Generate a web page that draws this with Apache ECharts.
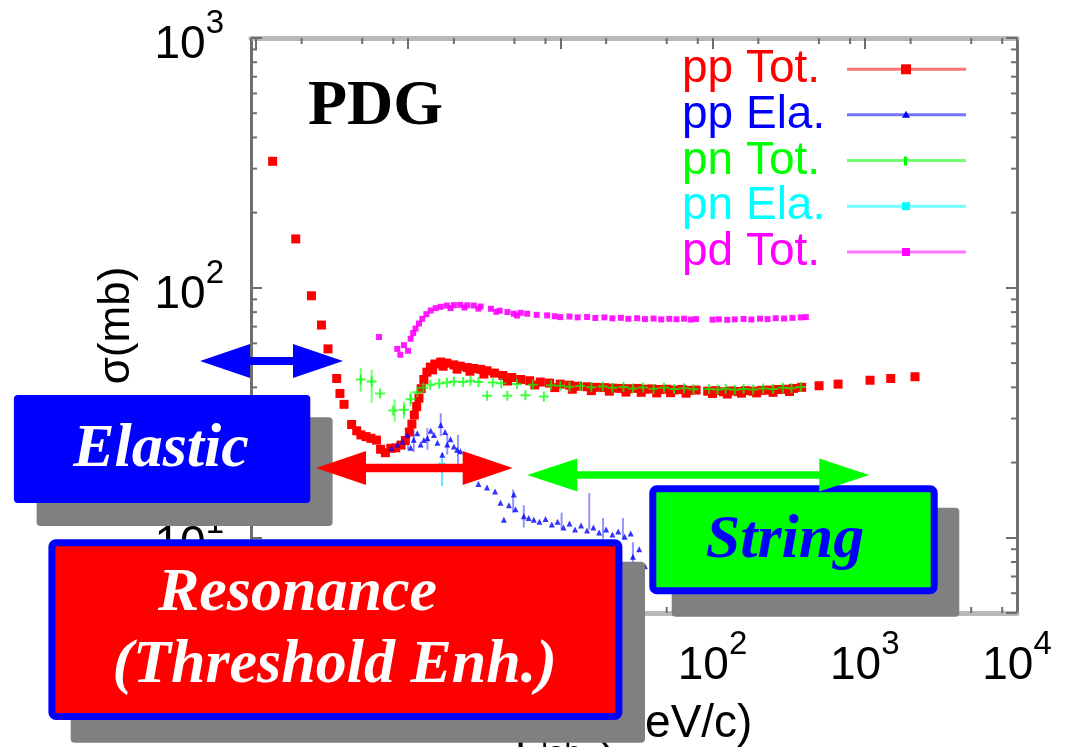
<!DOCTYPE html>
<html><head><meta charset="utf-8">
<script src="https://cdn.jsdelivr.net/npm/echarts@6/dist/echarts.min.js"></script>
<style>html,body{margin:0;padding:0;background:#fff}#c{width:1075px;height:747px}</style>
</head><body><div id="c"></div>
<script>
// ---------------- data (plab GeV/c, sigma mb) ----------------
const ppTot = [[0.129,321],[0.183,157],[0.232,93],[0.27,71],[0.298,57],[0.34,43.4],[0.357,37.8],[0.38,34.2],[0.426,28.4],[0.46,26.8],[0.49,25.8],[0.53,25.4],[0.57,25.0],[0.62,24.6],[0.66,22.6],[0.71,21.9],[0.77,22.8],[0.83,22.9],[0.9,23.5],[0.96,24.5],[1.02,26.5],[1.06,28.5],[1.1,31],[1.14,33.5],[1.18,36.2],[1.22,39.5],[1.27,43],[1.33,46],[1.4,48.2],[1.5,49.6],[1.64,50.5],[1.8,50.0],[2.0,49.2],[2.2,48.6],[2.45,48.0],[2.7,47.6],[3.0,47.2],[3.3,46.6],[3.7,45.6],[4.2,44.6],[4.8,43.8],[5.5,43.0],[6.3,42.5],[7.4,42.0],[8.5,41.6],[10,41.2],[11.5,40.8],[13,40.4],[15,40.2],[17,40.0],[19.5,39.9],[22,39.7],[25,39.6],[28,39.5],[32,39.6],[36,39.3],[40,39.4],[45,39.2],[50,39.3],[56,39.0],[63,39.2],[70,38.9],[78,39.0],[93,38.6],[105,38.8],[118,38.4],[132,38.7],[148,38.5],[165,38.8],[185,38.6],[210,38.9],[235,39.0],[265,39.2],[300,39.3],[340,39.6],[385,40.0],[501,40.6],[668,41.2],[1083,42.7],[1481,43.4],[2138,44.1],
  [1.45,47.0],[1.7,48.6],[2.1,47.3],[2.55,46.4],[3.15,45.2],[4.5,42.4],[6.8,40.9],[9.2,39.9],[12,39.3],[16,38.8],[21,38.6],[27,38.3],[34,38.2],[43,38.0],[53,38.1],[67,37.9],[100,37.8],[125,37.6],[155,37.9],[195,38.0],[250,38.2],[320,38.5]];
const ppEla = [[0.78,22.8],[0.85,23.6],[0.92,24.3],[0.99,25.8],[1.04,22.9],[1.09,24.7],[1.15,26.2],[1.21,23.6],[1.27,24.6],[1.34,25.0],[1.41,26.8],[1.48,25.8],[1.56,24.0],[1.64,28.3],[1.68,21.5],[1.75,26.5],[1.81,23.6],[1.9,24.8],[2.0,23.2],[2.1,22.5],[2.21,22.2],[2.45,19.5],[2.9,16.4],[3.3,15.9],[3.73,15.3],[4.05,13.8],[4.26,11.8],[4.6,13.5],[4.95,14.9],[5.08,13.0],[5.76,12.2],[6.2,12.0],[6.7,11.8],[7.3,11.6],[8.0,11.9],[8.8,11.3],[9.6,11.6],[10.5,11.0],[11.5,11.4],[12.5,10.8],[13.7,11.2],[15,10.7],[16.5,11.0],[18,10.5],[20,10.8],[22,10.3],[24,10.6],[26.5,10.1],[29,10.4],[30,8.4],[33,9.0],[36,7.7],[45,7.6],[60,7.3],[80,7.1],[110,7.0],[150,7.0],[200,7.1]];
const ppElaErr = [[1.0,22.5,27.5],[1.09,22.0,27.0],[1.34,22.5,27.5],[1.64,25.5,31.5],[1.81,21.5,26.0],[2.13,19.3,25.8],[2.45,17.5,21.5],[4.9,12.6,15.6],[5.76,11.0,13.5],[10.2,10.8,12.6],[15.5,10.8,15.1],[19.1,9.9,12.0],[25.8,9.9,12.0],[30,7.8,9.6]];
const pnTot = [[0.489,43.0],[0.577,42.2],[0.654,37.8],[0.8,32.3],[0.94,32.5],[1.04,35.8],[1.15,38.2],[1.26,39.8],[1.4,41.0],[1.6,41.4],[1.8,41.8],[2.0,42.2],[2.3,42.0],[2.57,42.5],[2.9,42.0],[3.31,37.0],[3.6,41.8],[4.1,41.5],[4.49,37.0],[5.2,41.2],[5.9,37.2],[6.6,41.0],[7.8,36.8],[8.7,40.8],[10,40.6],[11.5,40.2],[13.5,40.5],[16,40.0],[19,40.3],[22,39.8],[26,40.1],[30,39.6],[35,39.9],[41,39.5],[48,39.8],[56,39.4],[65,39.7],[75,39.3],[95,39.4],[108,39.2],[122,39.5],[140,39.1],[160,39.4],[185,39.2],[215,39.6],[250,39.4],[290,39.8],[330,39.7],[380,40.1]];
const pnTotErr = [[0.489,38.4,47.9],[0.577,34.7,47.0],[0.817,29.1,35.8],[0.94,30.0,35.0],[1.04,33.5,38.5]];
const pnEla = [[1.67,19.4]];
const pnElaErr = [[1.67,16.1,21.9]];
const pdTot = [[0.645,63.6],[0.85,57],[0.89,54],[0.94,59],[1.0,56],[1.04,62.6],[1.08,66],[1.12,68.7],[1.18,72],[1.24,75.2],[1.32,78.5],[1.41,81.2],[1.52,83],[1.64,84],[1.8,85],[2.0,85.3],[2.2,85.5],[2.45,85.2],[2.7,85],[3.0,84.2],[3.5,82.5],[4.0,81],[4.5,80],[4.95,78.8],[5.5,79.5],[6.06,78.8],[7.0,78],[8.2,77.6],[9.2,77],[10,76.4],[11.5,76.8],[13,76.2],[15,76.5],[17,75.8],[19.5,76.2],[22,75.5],[25,75.9],[28,75.2],[32,75.6],[36,75],[41,75.4],[46,74.8],[52,75.2],[58,74.9],[65,75.3],[72,74.7],[78,75.0],[100,74.6],[110,74.9],[125,74.5],[140,74.8],[160,75.1],[180,74.7],[205,75.3],[230,75.0],[260,75.6],[295,75.4],[335,75.9],[380,76.2],[410,76.4],
  [1.9,83.0],[2.35,83.4],[2.9,82.6],[3.8,80.2],[5.2,77.5]];

const legendLabels = ['pp Tot.','pp Ela.','pn Tot.','pn Ela.','pd Tot.'];
const xMin = 0.093, xMax = 10000, yMin = 5, yMax = 1000;
const xMinorMult = [2,5,8];
const yMinorMult = [2,3,4,5,6,7,8,9];

// ---------------- styles ----------------
const RED='#ff0000', BLUE='#0000ff', GREEN='#00ff00', CYAN='#00ffff', MAG='#ff00ff';
const SANS='"Liberation Sans", Arial, sans-serif';
const SERIF='"Liberation Serif", "Times New Roman", serif';
const PLUS='path://M0,4H10V6H0Z M4,0H6V10H4Z';
const TICK='#6e6e6e';

function powLabel(v){
  const e=Math.round(Math.log10(v));
  if (Math.abs(v/Math.pow(10,e)-1)>1e-6) return '';
  return '{b|10}{s|'+(e<0?'-'+(-e):e)+'}';
}
const labelRich = {
  b:{fontSize:46,lineHeight:61,fontFamily:SANS,color:'#000',verticalAlign:'bottom'},
  s:{fontSize:33,lineHeight:33,fontFamily:SANS,color:'#000',verticalAlign:'top'}
};

function errSeries(data,color){
  return {type:'custom',coordinateSystem:'cartesian2d',silent:true,data:data,z:1,
    encode:{x:0,y:[1,2]},
    renderItem:function(params,api){
      const x=api.value(0);
      const a=api.coord([x,api.value(1)]), b=api.coord([x,api.value(2)]);
      return {type:'line',shape:{x1:a[0],y1:a[1],x2:b[0],y2:b[1]},style:{stroke:color,lineWidth:2}};
    }};
}

const minorTicks = {type:'custom',coordinateSystem:'cartesian2d',silent:true,clip:false,z:3,data:[[1,10]],
  renderItem:function(params,api){
    const ch=[];
    for(let k=Math.floor(Math.log10(xMin));k<Math.log10(xMax);k++){
      xMinorMult.forEach(m=>{const v=m*Math.pow(10,k); if(v<=xMin||v>=xMax)return;
        const t=api.coord([v,yMax]), b=api.coord([v,yMin]);
        ch.push({type:'line',shape:{x1:t[0],y1:t[1],x2:t[0],y2:t[1]+6},style:{stroke:TICK,lineWidth:2}});
        ch.push({type:'line',shape:{x1:b[0],y1:b[1],x2:b[0],y2:b[1]-6},style:{stroke:TICK,lineWidth:2}});
      });
    }
    for(let k=Math.floor(Math.log10(yMin));k<Math.log10(yMax);k++){
      yMinorMult.forEach(m=>{const v=m*Math.pow(10,k); if(v<=yMin||v>=yMax)return;
        const l=api.coord([xMin,v]), r=api.coord([xMax,v]);
        ch.push({type:'line',shape:{x1:l[0],y1:l[1],x2:l[0]+6,y2:l[1]},style:{stroke:TICK,lineWidth:2}});
        ch.push({type:'line',shape:{x1:r[0],y1:r[1],x2:r[0]-6,y2:r[1]},style:{stroke:TICK,lineWidth:2}});
      });
    }
    return {type:'group',children:ch};
  }};

// ---------------- overlay graphics ----------------
function dblArrow(x1,x2,cy,hl,hh,sh,color){
  return {type:'polygon',z:110,silent:true,shape:{points:[[x1,cy],[x1+hl,cy-hh],[x1+hl,cy-sh],[x2-hl,cy-sh],[x2-hl,cy-hh],[x2,cy],[x2-hl,cy+hh],[x2-hl,cy+sh],[x1+hl,cy+sh],[x1+hl,cy+hh]]},style:{fill:color}};
}
function box(x,y,w,h,fill,stroke,sw){
  const o={type:'rect',z:100,silent:true,shape:{x:x+(sw?sw/2:0),y:y+(sw?sw/2:0),width:w-(sw||0),height:h-(sw||0),r:4},style:{fill:fill}};
  if(sw){o.style.stroke=stroke;o.style.lineWidth=sw;}
  return o;
}
function label(text,cx,cy,fill,font,align){
  return {type:'text',z:105,silent:true,x:cx,y:cy,style:{text:text,font:font,fill:fill,textAlign:align||'center',textVerticalAlign:'middle'}};
}
const BI='italic bold 62px '+SERIF;
const graphics=[
  label('PDG',308,107,'#000','bold 64px '+SERIF,'left'),
  // Elastic
  box(36.6,417.3,296,108.7,'#808080'),
  box(13.9,395,296.4,108,BLUE),
  label('Elastic',161,450,'#fff',BI),
  // Resonance
  box(70.7,561.7,574.3,181,'#808080'),
  box(48.4,539.3,574,180.7,RED,BLUE,7),
  label('Resonance',297.5,594,'#fff',BI),
  label('(Threshold Enh.)',334.7,666,'#fff',BI),
  // String
  box(671.7,507.7,287.6,109,'#808080'),
  box(649.3,485.3,288.4,109,GREEN,BLUE,7),
  label('String',785,541,BLUE,BI),
  // arrows
  dblArrow(200,343,361,50,17,4,BLUE),
  dblArrow(316,512.7,468,50,17,4.3,RED),
  dblArrow(527.3,869.3,475,50,16.5,3.7,GREEN)
];
// legend drawn as overlay
const legColors=[RED,BLUE,GREEN,CYAN,MAG];
const legLine=['#ff7373','#7373ff','#73ff73','#73ffff','#ff73ff'];
const legY=[69.3,114.8,160.5,206.2,252];
legendLabels.forEach((t,i)=>{
  graphics.push(label(t,682,legY[i]+0.5,legColors[i],'46px '+SANS,'left'));
  graphics.push({type:'line',z:100,silent:true,shape:{x1:847,y1:legY[i],x2:966,y2:legY[i]},style:{stroke:legLine[i],lineWidth:3}});
});
graphics.push({type:'rect',z:101,silent:true,shape:{x:901,y:legY[0]-5,width:10,height:10},style:{fill:RED}});
graphics.push({type:'polygon',z:101,silent:true,shape:{points:[[906,legY[1]-4],[910,legY[1]+3],[902,legY[1]+3]]},style:{fill:BLUE}});
graphics.push({type:'rect',z:101,silent:true,shape:{x:904,y:legY[2]-4,width:3,height:9},style:{fill:GREEN}});
graphics.push({type:'rect',z:101,silent:true,shape:{x:902,y:legY[3]-4,width:8,height:8},style:{fill:CYAN}});
graphics.push({type:'rect',z:101,silent:true,shape:{x:902,y:legY[4]-4,width:8,height:8},style:{fill:MAG}});

const axisCommon = {type:'log',logBase:10,splitLine:{show:false},minorTick:{show:false}};
const option = {
  animation:false,
  backgroundColor:'#fff',
  grid:{left:251,right:58,top:38,bottom:134,containLabel:false,outerBoundsMode:'none'},
  xAxis:[
    Object.assign({},axisCommon,{min:xMin,max:xMax,position:'bottom',
      axisLine:{show:true,onZero:false,lineStyle:{color:'#b8b8b8',width:5}},
      axisTick:{show:true,inside:true,length:11,lineStyle:{color:TICK,width:2}},
      axisLabel:{show:true,margin:15,formatter:powLabel,rich:labelRich},
      name:'{p|p}{sub|lab}{n| (GeV/c)}',nameLocation:'middle',nameGap:88,
      nameTextStyle:{rich:{
        p:{fontSize:46,lineHeight:46,fontFamily:SANS,color:'#000',verticalAlign:'top'},
        sub:{fontSize:30,lineHeight:68,fontFamily:SANS,color:'#000',verticalAlign:'bottom'},
        n:{fontSize:46,lineHeight:46,fontFamily:SANS,color:'#000',verticalAlign:'top'}}}
    }),
    Object.assign({},axisCommon,{min:xMin,max:xMax,position:'top',
      axisLine:{show:true,onZero:false,lineStyle:{color:'#b8b8b8',width:5}},
      axisTick:{show:true,inside:true,length:11,lineStyle:{color:TICK,width:2}},
      axisLabel:{show:false}})
  ],
  yAxis:[
    Object.assign({},axisCommon,{min:yMin,max:yMax,position:'left',
      axisLine:{show:true,onZero:false,lineStyle:{color:TICK,width:3}},
      axisTick:{show:true,inside:true,length:11,lineStyle:{color:TICK,width:2}},
      axisLabel:{show:true,margin:27,formatter:powLabel,rich:labelRich},
      name:'σ(mb)',nameLocation:'middle',nameGap:112,nameRotate:90,
      nameTextStyle:{fontSize:44,fontFamily:SANS,color:'#000'}
    }),
    Object.assign({},axisCommon,{min:yMin,max:yMax,position:'right',
      axisLine:{show:true,onZero:false,lineStyle:{color:TICK,width:3}},
      axisTick:{show:true,inside:true,length:11,lineStyle:{color:TICK,width:2}},
      axisLabel:{show:false}})
  ],
  graphic:{elements:graphics},
  series:[
    minorTicks,
    errSeries(ppElaErr,'rgba(60,60,255,0.55)'),
    errSeries(pnTotErr,'rgba(60,255,60,0.7)'),
    errSeries(pnElaErr,'rgba(60,220,255,0.8)'),
    {name:'pp Tot.',type:'scatter',data:ppTot,symbol:'rect',symbolSize:9,itemStyle:{color:RED,opacity:1},z:2},
    {name:'pp Ela.',type:'scatter',data:ppEla,symbol:'triangle',symbolSize:6,itemStyle:{color:BLUE},z:2},
    {name:'pn Tot.',type:'scatter',data:pnTot,symbol:PLUS,symbolSize:10,itemStyle:{color:GREEN,opacity:0.75},z:2},
    {name:'pn Ela.',type:'scatter',data:pnEla,symbol:PLUS,symbolRotate:45,symbolSize:9,itemStyle:{color:CYAN},z:2},
    {name:'pd Tot.',type:'scatter',data:pdTot,symbol:'rect',symbolSize:6,itemStyle:{color:MAG,opacity:0.9},z:2}
  ]
};
const chart = echarts.init(document.getElementById('c'),null,{renderer:'canvas'});
chart.setOption(option);
</script></body></html>
